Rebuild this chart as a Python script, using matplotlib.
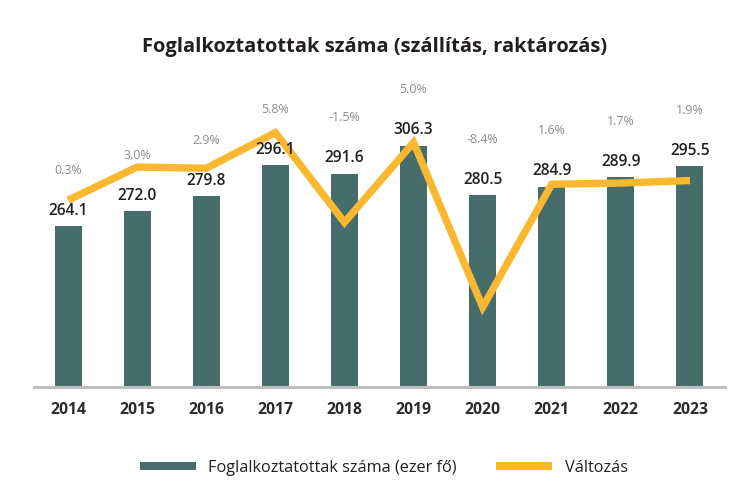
import matplotlib
matplotlib.use("Agg")
import matplotlib.pyplot as plt
from matplotlib.lines import Line2D

years = ["2014", "2015", "2016", "2017", "2018", "2019", "2020", "2021", "2022", "2023"]
employed = [264.1, 272.0, 279.8, 296.1, 291.6, 306.3, 280.5, 284.9, 289.9, 295.5]
change = [0.3, 3.0, 2.9, 5.8, -1.5, 5.0, -8.4, 1.6, 1.7, 1.9]
change_labels = ["0.3%", "3.0%", "2.9%", "5.8%", "-1.5%", "5.0%", "-8.4%", "1.6%", "1.7%", "1.9%"]
title = "Foglalkoztatottak száma (szállítás, raktározás)"
legend_labels = ["Foglalkoztatottak száma (ezer fő)", "Változás"]

BAR = "#466d6a"
LINE = "#f9b82f"
DARK = "#231f20"
GRAY = "#8c8c8c"

plt.rcParams['font.family'] = ['Open Sans', 'DejaVu Sans']

W, H = 750, 490
fig = plt.figure(figsize=(7.5, 4.9), dpi=100)
renderer = fig.canvas.get_renderer()


def fit(s, target_px, **kw):
    t = fig.text(0, 0, s, fontsize=10, **kw)
    w = t.get_window_extent(renderer).width
    t.remove()
    return 10.0 * target_px / w


def fx(px):
    return px / W


def fy(py):
    return 1 - py / H


PT = 72.0 / 100.0  # points per pixel

ax = fig.add_axes([0.0447, 0.2102, 0.9213, 0.647])
x = list(range(len(years)))
ax.bar(x, employed, width=0.39, color=BAR, zorder=2)
ax.set_xlim(-0.5, 9.5)
ax.set_ylim(180, 346)
for s in ["top", "right", "left"]:
    ax.spines[s].set_visible(False)
ax.spines["bottom"].set_color("#bfbfbf")
ax.spines["bottom"].set_linewidth(2.2)
ax.set_yticks([])
ax.set_xticks([])

ax2 = ax.twinx()
ax2.plot(x, change, color=LINE, lw=5.3, solid_joinstyle='miter', solid_capstyle='butt', zorder=2)
ax2.set_ylim(-14.9, 10.9)
ax2.axis('off')

val_size = fit("306.3", 40, fontweight='semibold')
pct_size = fit("5.0%", 28)
year_size = fit("2014", 36, fontweight='bold')
cap = 0.714

for xi, v, lab in zip(x, employed, change_labels):
    off_v = 17 - cap * val_size / PT / 2
    ax2.annotate(f"{v:.1f}", (xi, v), xycoords=ax.transData, xytext=(0, off_v * PT),
                 textcoords='offset points', ha='center', va='baseline',
                 fontsize=val_size, fontweight='semibold', color=DARK, zorder=5)
    off_p = 57 - cap * pct_size / PT / 2
    ax2.annotate(lab, (xi, v), xycoords=ax.transData, xytext=(0, off_p * PT),
                 textcoords='offset points', ha='center', va='baseline',
                 fontsize=pct_size, color=GRAY, zorder=5)

for xi, yr in zip(x, years):
    off_y = (408 - 387) + cap * year_size / PT / 2
    ax.annotate(yr, (xi, 0), xycoords=('data', 'axes fraction'), xytext=(0, -off_y * PT),
                textcoords='offset points', ha='center', va='baseline',
                fontsize=year_size, fontweight='bold', color="#2b2b2b", annotation_clip=False)

title_size = fit(title, 467, fontweight='bold')
fig.text(fx(374.5), fy(47), title, ha='center', va='center',
         fontsize=title_size, fontweight='bold', color=DARK)

# legend
leg_size = fit(legend_labels[0], 249)
for (x0, x1), col in [((140, 196), BAR), ((496, 552), LINE)]:
    fig.add_artist(Line2D([fx(x0), fx(x1)], [fy(466), fy(466)], transform=fig.transFigure,
                          color=col, lw=8 * PT, solid_capstyle='butt'))
for xt, lab in zip([208, 565], legend_labels):
    fig.text(fx(xt), fy(466 - cap * leg_size / PT / 2 * 0 ) , lab, ha='left', va='center_baseline',
             fontsize=leg_size, color=DARK)

fig.savefig("out.png", dpi=100)
